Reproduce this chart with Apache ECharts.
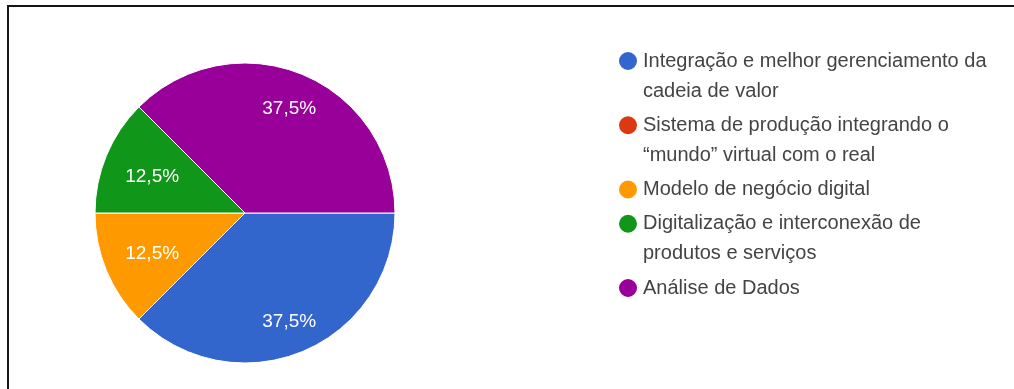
<!DOCTYPE html>
<html>
<head>
<meta charset="utf-8">
<title>Pie chart</title>
<script src="https://cdn.jsdelivr.net/npm/echarts@6/dist/echarts.min.js"></script>
<style>
  html, body { margin: 0; padding: 0; background: #fff; }
  #wrap { position: relative; width: 1014px; height: 389px; overflow: hidden; }
  #frame {
    position: absolute; left: 7px; top: 5px; width: 1100px; height: 500px;
    border-top: 2px solid #151515; border-left: 2px solid #151515;
    box-sizing: border-box;
  }
  #chart { position: absolute; left: 0; top: 0; width: 1014px; height: 389px; }
</style>
</head>
<body>
<div id="wrap">
  <div id="frame"></div>
  <div id="chart"></div>
</div>
<script>
// Answer categories (full names) and how each is wrapped in the legend
const categories = [
  'Integração e melhor gerenciamento da cadeia de valor',
  'Sistema de produção integrando o “mundo” virtual com o real',
  'Modelo de negócio digital',
  'Digitalização e interconexão de produtos e serviços',
  'Análise de Dados'
];
const legendLabels = [
  'Integração e melhor gerenciamento da\ncadeia de valor',
  'Sistema de produção integrando o\n“mundo” virtual com o real',
  'Modelo de negócio digital',
  'Digitalização e interconexão de\nprodutos e serviços',
  'Análise de Dados'
];
// Number of responses per category (8 in total)
const responses = [3, 0, 1, 1, 3];
const sliceColors = ['#3366cc', '#dc3912', '#ff9900', '#109618', '#990099'];

const PIE_CX = 245;
const PIE_CY = 213;
const PIE_R = 150;
const LINE_H = 30;
const LABEL_DROP = 2;

// Legend layout: vertical centre of each dot
const LEGEND_LEFT = 617;
const LEGEND_FIRST_Y = 61;
const ENTRY_GAP = 4.25;

const total = responses.reduce((a, b) => a + b, 0);

// One legend block per entry so that a wrapped entry keeps its dot
// level with the first line (a leading blank line balances the block).
const legends = [];
let dotY = LEGEND_FIRST_Y;
legendLabels.forEach((label, i) => {
  const lines = label.split('\n').length;
  const text = lines > 1 ? '\n' + label : label;
  const half = (lines > 1 ? 3 : 1) * LINE_H / 2;
  legends.push({
    orient: 'vertical',
    left: LEGEND_LEFT,
    top: dotY - half,
    padding: 0,
    itemWidth: 20,
    itemHeight: 20,
    itemTextGap: 9,
    icon: 'circle',
    selectedMode: false,
    textStyle: {
      fontFamily: 'Liberation Sans, Arial, sans-serif',
      fontSize: 20,
      color: '#444',
      lineHeight: LINE_H
    },
    data: [categories[i]],
    formatter: () => text
  });
  dotY += lines * LINE_H + ENTRY_GAP;
});

const chart = echarts.init(document.getElementById('chart'), null, { renderer: 'canvas' });

chart.setOption({
  animation: false,
  color: sliceColors,
  legend: legends,
  series: [{
    type: 'pie',
    center: [PIE_CX, PIE_CY],
    radius: [0, PIE_R],
    startAngle: 0,
    clockwise: true,
    avoidLabelOverlap: false,
    itemStyle: { borderColor: '#ffffff', borderWidth: 1 },
    label: {
      position: 'inside',
      color: '#ffffff',
      fontFamily: 'Liberation Sans, Arial, sans-serif',
      fontSize: 19,
      formatter: (p) => p.value > 0 ? p.percent.toFixed(1).replace('.', ',') + '%' : ''
    },
    labelLine: { show: false },
    // push the percentage labels outward; larger slices sit a bit further out
    labelLayout: (p) => {
      const r = p.labelRect;
      const lx = r.x + r.width / 2;
      const ly = r.y + r.height / 2;
      const dx = lx - PIE_CX;
      const dy = ly - PIE_CY;
      const d = Math.sqrt(dx * dx + dy * dy) || 1;
      const share = responses[p.dataIndex] / total;
      const target = PIE_R * (0.62 + 0.4 * share);
      return { x: PIE_CX + dx / d * target, y: PIE_CY + dy / d * target + LABEL_DROP };
    },
    emphasis: { disabled: true },
    data: categories.map((name, i) => ({ name: name, value: responses[i] }))
  }]
});
</script>
</body>
</html>
